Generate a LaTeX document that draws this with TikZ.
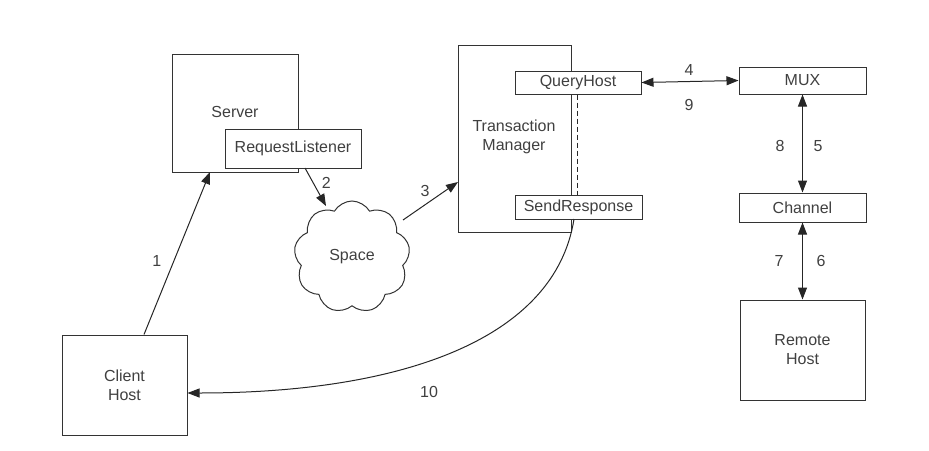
\documentclass[tikz,border=0pt]{standalone}
\usepackage{fontspec}
\setmainfont{Liberation Sans}
\usetikzlibrary{arrows.meta,shapes.symbols}
\begin{document}
\begin{tikzpicture}[x=1pt,y=-1pt,
  every node/.style={font=\fontsize{16}{19}\selectfont, text=black!75},
  box/.style={draw=black!80, line width=1pt, fill=white, inner sep=0pt},
  conn/.style={draw=black!85, line width=1pt},
  arr/.style={conn, -{Triangle[length=12pt,width=9pt]}},
  darr/.style={conn, {Triangle[length=12pt,width=9pt]}-{Triangle[length=12pt,width=9pt]}},
  lbl/.style={inner sep=0pt}]
\useasboundingbox (0,0) rectangle (929,450);
% Server
\node[box, minimum width=126pt, minimum height=118pt] (server) at (235,113) {};
\node at (235,112) {Server};
\node[box, minimum width=136pt, minimum height=39pt] (rl) at (293,148.5) {RequestListener};
% Client
\node[box, minimum width=125pt, minimum height=100pt, align=center] (client) at (124.5,385) {Client\\Host};
% Transaction manager
\node[box, minimum width=113pt, minimum height=187pt] (tm) at (514.5,138.5) {};
\node[align=center] at (514,137) {Transaction\\Manager};
\node[box, minimum width=126pt, minimum height=23pt] (qh) at (578,82.5) {QueryHost};
\node[box, minimum width=127pt, minimum height=24pt] (sr) at (578.5,207) {SendResponse};
\draw[conn, dash pattern=on 5pt off 3pt] (qh.south -| 577,0) -- (sr.north -| 577,0);
% Cloud
\node[cloud, draw=black!80, line width=1pt, cloud puffs=9, cloud puff arc=120, aspect=1.05, minimum width=116pt, minimum height=112pt, inner sep=0pt] (space) at (352,257) {Space};
% MUX, Channel, Remote
\node[box, minimum width=127pt, minimum height=27pt] (mux) at (802.5,80.5) {MUX};
\node[box, minimum width=127pt, minimum height=29pt] (chan) at (802.5,207.5) {Channel};
\node[box, minimum width=125pt, minimum height=100pt, align=center] (remote) at (802.5,350) {Remote\\Host};
% connectors
\draw[arr] (client.north -| 144,0) -- (210,172) node[lbl, pos=0.45, left=12pt] {1};
\coordinate (c2s) at (305,168);
\draw[arr] (c2s) -- (326,206) node[lbl, pos=0.4, right=8pt] {2};
\coordinate (c3s) at (403,220);
\draw[arr] (c3s) -- (458,182) node[lbl, pos=0.4, above=8pt] {3};
\draw[darr] (qh.east) -- (mux.west);
\node[lbl] at (689,70) {4};
\node[lbl] at (689,105) {9};
\draw[darr] (mux.south) -- (chan.north);
\node[lbl] at (780,146) {8};
\node[lbl] at (818,146) {5};
\draw[darr] (chan.south) -- (remote.north);
\node[lbl] at (779,261) {7};
\node[lbl] at (821,261) {6};
\draw[arr] (574,219) .. controls (555,340) and (400,393) .. (client.east |- 0,393);
\node[lbl] at (429,392) {10};
\end{tikzpicture}
\end{document}
